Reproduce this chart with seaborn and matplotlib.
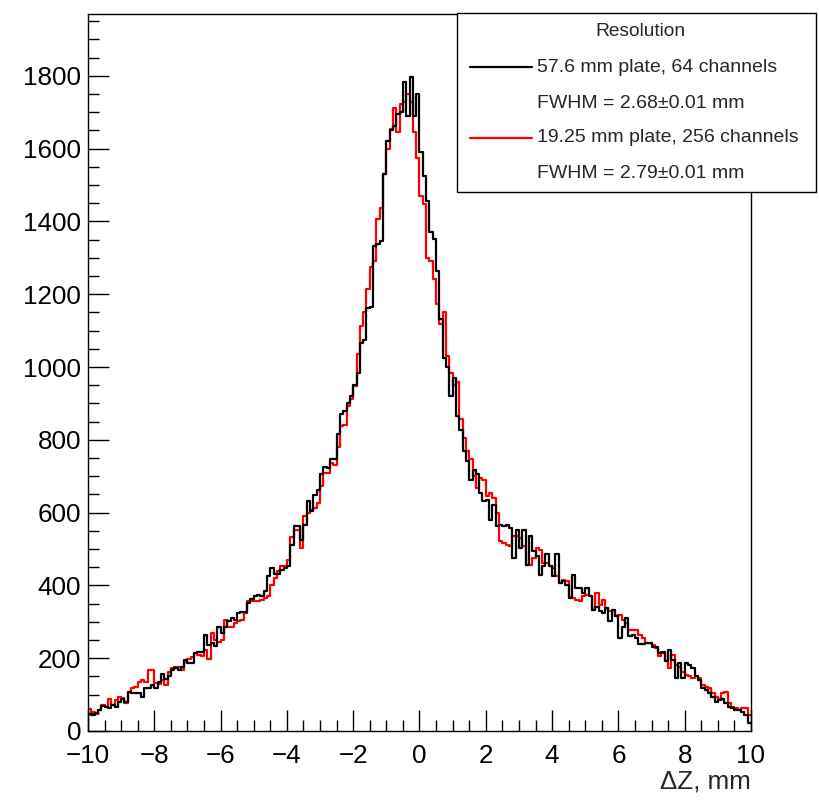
import numpy as np
import pandas as pd
import matplotlib
matplotlib.use("Agg")
import matplotlib.pyplot as plt
import seaborn as sns
from matplotlib.ticker import MultipleLocator
from matplotlib.lines import Line2D
from matplotlib.patches import Rectangle

# ---------------- data ----------------
x_min, x_max, n_bins = -10.0, 10.0, 200

counts_64ch = [
    46, 44, 49, 58, 69, 67, 62, 71, 67, 80,
    89, 80, 108, 105, 105, 105, 94, 117, 117, 127,
    117, 134, 156, 142, 152, 168, 172, 168, 177, 195,
    186, 186, 214, 218, 218, 264, 236, 241, 234, 287,
    268, 285, 301, 310, 305, 324, 326, 328, 353, 362,
    370, 374, 370, 384, 425, 448, 430, 430, 443, 448,
    452, 510, 564, 564, 526, 567, 631, 604, 649, 663,
    705, 726, 723, 748, 748, 815, 870, 879, 902, 920,
    952, 984, 1065, 1075, 1163, 1165, 1333, 1338, 1347, 1530,
    1622, 1650, 1663, 1696, 1700, 1783, 1691, 1796, 1690, 1750,
    1590, 1526, 1457, 1371, 1351, 1264, 1131, 1026, 999, 920,
    971, 865, 828, 769, 741, 691, 718, 705, 654, 631,
    636, 581, 622, 562, 567, 562, 567, 558, 475, 553,
    503, 553, 457, 535, 494, 480, 429, 452, 485, 452,
    425, 485, 406, 411, 402, 365, 429, 393, 393, 379,
    393, 370, 333, 342, 329, 324, 337, 301, 333, 315,
    255, 286, 310, 261, 265, 256, 238, 238, 243, 241,
    232, 230, 214, 218, 191, 223, 195, 145, 186, 145,
    186, 182, 173, 150, 140, 117, 113, 104, 94, 80,
    85, 89, 76, 67, 62, 58, 58, 53, 44, 21,
]

counts_256ch = [
    60, 53, 46, 58, 71, 67, 87, 71, 85, 94,
    92, 76, 108, 117, 122, 136, 140, 136, 168, 168,
    132, 130, 140, 127, 163, 172, 177, 177, 168, 190,
    199, 204, 213, 209, 206, 223, 199, 268, 250, 245,
    250, 305, 287, 287, 296, 301, 305, 324, 356, 358,
    356, 356, 360, 365, 370, 402, 420, 440, 452, 452,
    470, 534, 553, 553, 503, 590, 600, 608, 612, 627,
    672, 709, 709, 735, 732, 780, 838, 842, 893, 911,
    947, 1035, 1113, 1150, 1214, 1274, 1290, 1406, 1436, 1530,
    1600, 1655, 1711, 1645, 1723, 1728, 1750, 1728, 1646, 1574,
    1471, 1448, 1300, 1292, 1241, 1172, 1117, 1151, 1030, 985,
    952, 960, 856, 806, 769, 746, 700, 668, 695, 690,
    645, 655, 640, 599, 521, 516, 512, 507, 535, 535,
    530, 507, 457, 457, 474, 503, 498, 461, 461, 452,
    447, 425, 406, 416, 411, 367, 365, 360, 356, 370,
    374, 370, 333, 379, 345, 360, 337, 329, 333, 315,
    319, 305, 296, 278, 278, 278, 264, 255, 243, 243,
    235, 229, 207, 215, 191, 173, 210, 180, 175, 163,
    154, 150, 145, 150, 145, 127, 122, 117, 104, 94,
    89, 104, 108, 76, 67, 62, 58, 62, 62, 44,
]

legend_title = "Resolution"
label_64 = "57.6 mm plate, 64 channels"
fwhm_64 = "FWHM = 2.68\u00b10.01 mm"
label_256 = "19.25 mm plate, 256 channels"
fwhm_256 = "FWHM = 2.79\u00b10.01 mm"

# ---------------- style ----------------
sns.set_style("ticks")
plt.rcParams["font.family"] = ["Liberation Sans", "DejaVu Sans"]

edges = np.linspace(x_min, x_max, n_bins + 1)
centers = 0.5 * (edges[:-1] + edges[1:])
df = pd.DataFrame({
    "dz": np.concatenate([centers, centers]),
    "count": np.array(counts_64ch + counts_256ch, dtype=float),
    "setup": [label_64] * n_bins + [label_256] * n_bins,
})

fig = plt.figure(figsize=(8.2, 8.0), dpi=100)
ax = fig.add_axes([88 / 820, 69 / 800, 663 / 820, 717 / 800])

sns.histplot(data=df[df.setup == label_256], x="dz", weights="count",
             bins=n_bins, binrange=(x_min, x_max),
             element="step", fill=False, color="#ff0000", linewidth=1.6, ax=ax)
sns.histplot(data=df[df.setup == label_64], x="dz", weights="count",
             bins=n_bins, binrange=(x_min, x_max),
             element="step", fill=False, color="black", linewidth=1.6, ax=ax)

ax.set_xlim(x_min, x_max)
ax.set_ylim(0, 1970)
ax.xaxis.set_major_locator(MultipleLocator(2))
ax.xaxis.set_minor_locator(MultipleLocator(0.5))
ax.yaxis.set_major_locator(MultipleLocator(200))
ax.yaxis.set_minor_locator(MultipleLocator(50))
ax.tick_params(which="both", direction="in", top=False, right=False, colors="black")
ax.tick_params(axis="x", which="major", length=15, width=1, labelsize=18.7, pad=9.5)
ax.tick_params(axis="x", which="minor", length=8, width=1)
ax.tick_params(axis="y", which="major", length=15, width=1, labelsize=18.7, pad=5)
ax.tick_params(axis="y", which="minor", length=8, width=1)
for s in ax.spines.values():
    s.set_visible(True)
    s.set_color("black")
    s.set_linewidth(1.0)
ax.set_ylabel("")
ax.set_xlabel("\u0394Z, mm", loc="right", fontsize=18.7, labelpad=1)

# ---------------- legend (ROOT-style box) ----------------
W, H = 820.0, 800.0
def fx(px):
    return px / W
def fy(py):
    return 1 - py / H

box = Rectangle((fx(457), fy(192)), fx(816) - fx(457), fy(13) - fy(192),
                transform=fig.transFigure, facecolor="white", edgecolor="black",
                linewidth=1.0, zorder=10)
fig.patches.append(box)
fig.text(fx(640), fy(32), legend_title, ha="center", va="center", fontsize=13.8, zorder=11)
fig.lines.append(Line2D([fx(470), fx(532)], [fy(67), fy(67)], color="black", lw=1.6,
                        transform=fig.transFigure, zorder=11))
fig.text(fx(537), fy(67), label_64, ha="left", va="center", fontsize=14, zorder=11)
fig.text(fx(537), fy(103), fwhm_64, ha="left", va="center", fontsize=14, zorder=11)
fig.lines.append(Line2D([fx(470), fx(532)], [fy(138), fy(138)], color="#ff0000", lw=1.6,
                        transform=fig.transFigure, zorder=11))
fig.text(fx(537), fy(138), label_256, ha="left", va="center", fontsize=14, zorder=11)
fig.text(fx(537), fy(174), fwhm_256, ha="left", va="center", fontsize=14, zorder=11)

fig.savefig("out.png", dpi=100, facecolor="white")
